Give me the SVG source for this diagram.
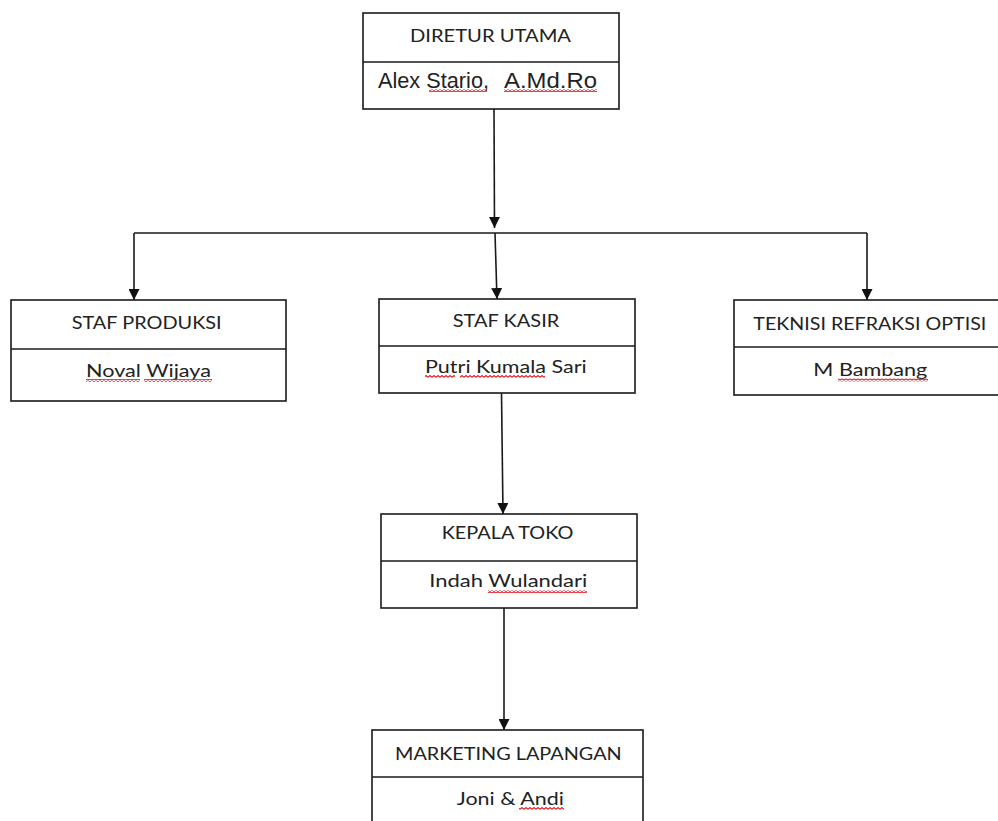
<svg xmlns="http://www.w3.org/2000/svg" width="998" height="821" viewBox="0 0 998 821">
  <style>
    .box { fill: #ffffff; stroke: #1a1a1a; stroke-width: 1.6; }
    .div { stroke: #1a1a1a; stroke-width: 1.6; }
    .lbl { font-family: Lato, "Open Sans", "Noto Sans", sans-serif; font-size: 17.5px; fill: #222222; }
    .nm { font-family: "Liberation Sans", Arial, sans-serif; font-size: 22.5px; fill: #222222; }
    .conn { fill: none; stroke: #1a1a1a; stroke-width: 1.6; }
    .sq { fill: url(#wave); }
  </style>
  <defs>
    <marker id="arrow" markerUnits="userSpaceOnUse" markerWidth="12" markerHeight="11" refX="11" refY="5.5" orient="auto">
      <path d="M0,0 L11,5.5 L0,11 z" fill="#111111"/>
    </marker>
    <pattern id="wave" patternUnits="userSpaceOnUse" width="4" height="3">
      <path d="M0,2.3 L2,0.6 L4,2.3" fill="none" stroke="#e8121e" stroke-width="1.1"/>
    </pattern>
  </defs>

  <g id="connectors">
    <path class="conn" d="M494 109 L494.5 228" marker-end="url(#arrow)"/>
    <path class="conn" d="M134 233 L867 233"/>
    <path class="conn" d="M134 233 L134 300" marker-end="url(#arrow)"/>
    <path class="conn" d="M495 233 L497 299" marker-end="url(#arrow)"/>
    <path class="conn" d="M867 233 L867 300" marker-end="url(#arrow)"/>
    <path class="conn" d="M501.5 393 L503 514" marker-end="url(#arrow)"/>
    <path class="conn" d="M504 608 L504 730" marker-end="url(#arrow)"/>
  </g>

  <g id="direktur-utama">
    <rect class="box" x="363" y="13" width="256" height="96"/>
    <line class="div" x1="363" y1="62" x2="619" y2="62"/>
    <text class="lbl" x="410" y="41.5" textLength="161" lengthAdjust="spacingAndGlyphs">DIRETUR UTAMA</text>
    <text class="nm" y="88"><tspan x="378" textLength="111" lengthAdjust="spacingAndGlyphs">Alex Stario,</tspan><tspan x="504" textLength="93" lengthAdjust="spacingAndGlyphs">A.Md.Ro</tspan></text>
    <rect class="sq" x="429" y="89" width="58" height="3"/>
    <rect class="sq" x="504" y="89" width="93" height="3"/>
  </g>

  <g id="staf-produksi">
    <rect class="box" x="11" y="300" width="275" height="101"/>
    <line class="div" x1="11" y1="349" x2="286" y2="349"/>
    <text class="lbl" x="71.7" y="329" textLength="150" lengthAdjust="spacingAndGlyphs">STAF PRODUKSI</text>
    <text class="lbl" x="86" y="376.5" textLength="125" lengthAdjust="spacingAndGlyphs">Noval Wijaya</text>
    <rect class="sq" x="86" y="379" width="54" height="3"/>
    <rect class="sq" x="144" y="379" width="68" height="3"/>
  </g>

  <g id="staf-kasir">
    <rect class="box" x="379" y="299" width="256" height="94"/>
    <line class="div" x1="379" y1="346" x2="635" y2="346"/>
    <text class="lbl" x="452.7" y="326.7" textLength="106.6" lengthAdjust="spacingAndGlyphs">STAF KASIR</text>
    <text class="lbl" x="425" y="372.7" textLength="161.7" lengthAdjust="spacingAndGlyphs">Putri Kumala Sari</text>
    <rect class="sq" x="425" y="375" width="30" height="3"/>
    <rect class="sq" x="460" y="375" width="85" height="3"/>
  </g>

  <g id="teknisi-refraksi-optisi">
    <rect class="box" x="734" y="300" width="268" height="95"/>
    <line class="div" x1="734" y1="347" x2="1002" y2="347"/>
    <text class="lbl" x="753.3" y="330" textLength="233" lengthAdjust="spacingAndGlyphs">TEKNISI REFRAKSI OPTISI</text>
    <text class="lbl" x="813.3" y="376" textLength="114" lengthAdjust="spacingAndGlyphs">M Bambang</text>
    <rect class="sq" x="838" y="378.5" width="90" height="3"/>
  </g>

  <g id="kepala-toko">
    <rect class="box" x="381" y="514" width="256" height="94"/>
    <line class="div" x1="381" y1="561" x2="637" y2="561"/>
    <text class="lbl" x="441.7" y="539" textLength="131.7" lengthAdjust="spacingAndGlyphs">KEPALA TOKO</text>
    <text class="lbl" x="429.3" y="587.3" textLength="158" lengthAdjust="spacingAndGlyphs">Indah Wulandari</text>
    <rect class="sq" x="488" y="590" width="99" height="3"/>
  </g>

  <g id="marketing-lapangan">
    <rect class="box" x="372" y="730" width="271" height="100"/>
    <line class="div" x1="372" y1="777" x2="643" y2="777"/>
    <text class="lbl" x="395" y="760" textLength="226.7" lengthAdjust="spacingAndGlyphs">MARKETING LAPANGAN</text>
    <text class="lbl" x="456.7" y="805" textLength="107.3" lengthAdjust="spacingAndGlyphs">Joni &amp; Andi</text>
    <rect class="sq" x="519" y="807" width="45" height="3"/>
  </g>
</svg>
